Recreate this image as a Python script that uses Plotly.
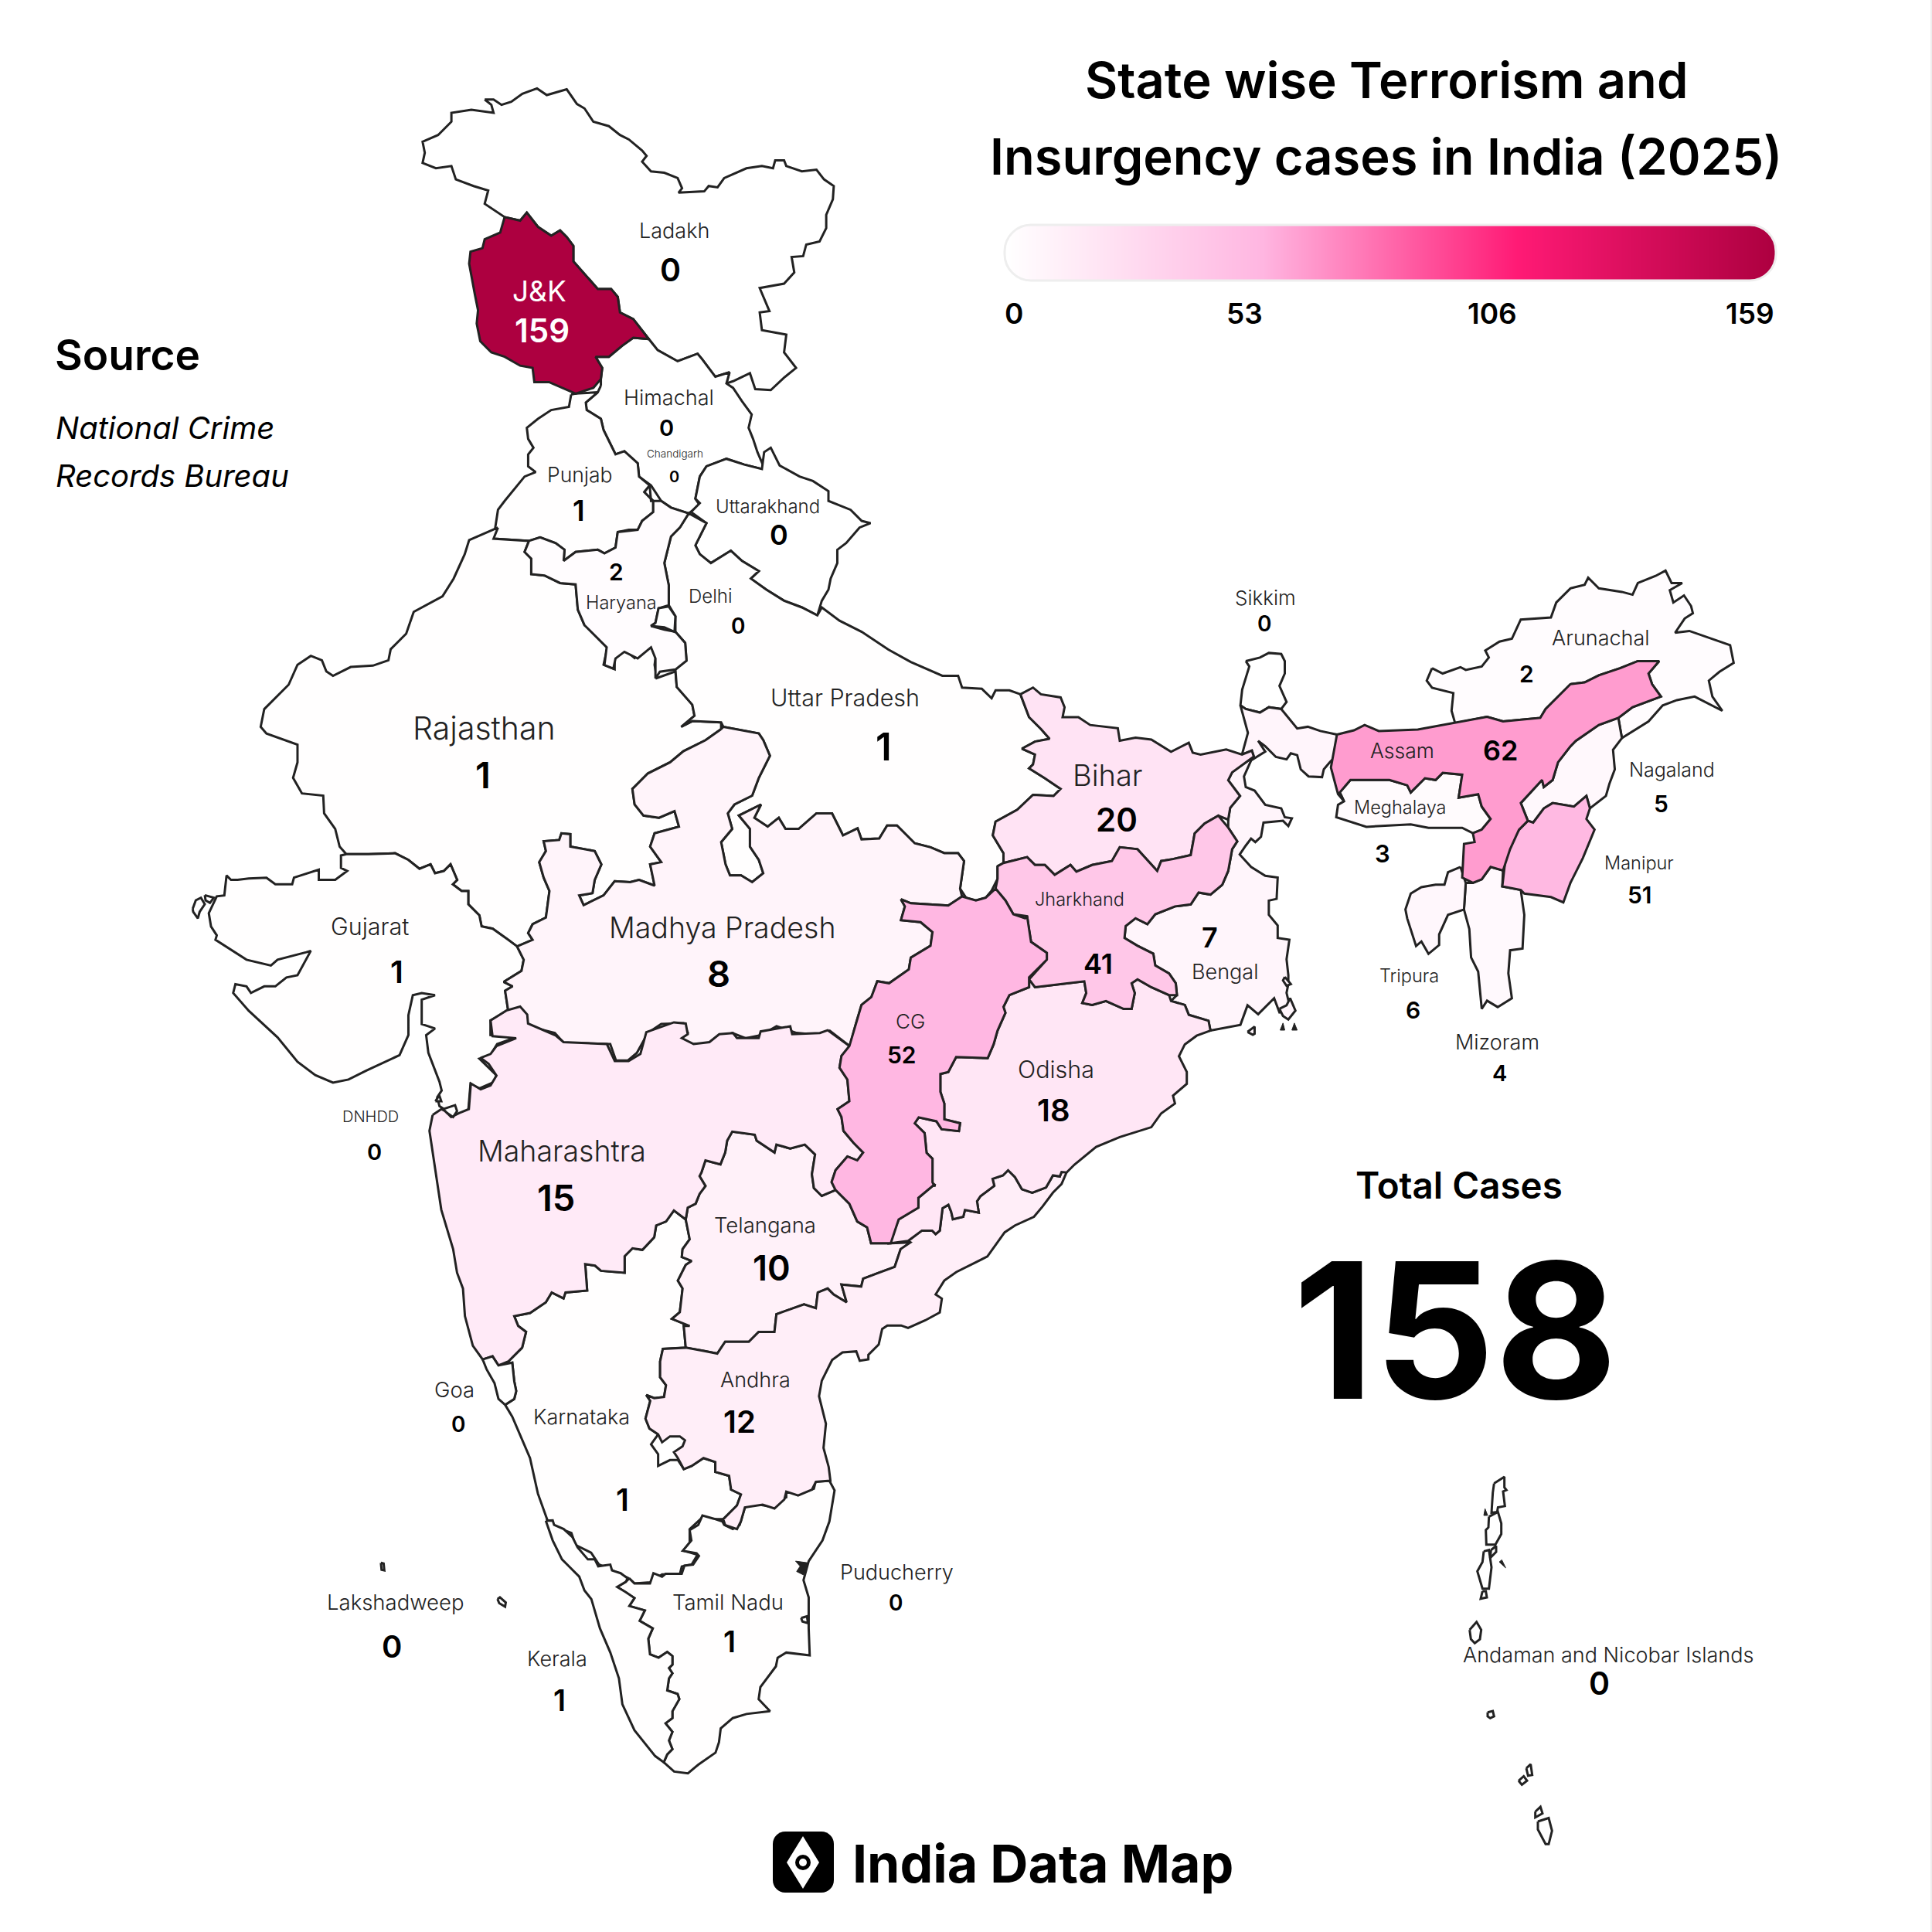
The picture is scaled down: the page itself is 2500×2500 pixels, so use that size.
import plotly.graph_objects as go
from plotly.colors import sample_colorscale

# zoom crops the outlines were read from: left, top, x scale, y scale
T_N = (300, 80, 900 / 1568, 900 / 1568)
T_W = (230, 820, 900 / 1568, 900 / 1568)
T_E = (1000, 780, 800 / 1568, 800 / 1568)
T_C = (520, 1300, 800 / 1568, 800 / 1568)
T_OD = (1050, 1300, 700 / 1568, 700 / 1568)
T_S = (600, 1750, 700 / 1568, 700 / 1568)
T_NE = (1550, 720, 720 / 1568, 720 / 1568)
T_AN = (1850, 1880, 1 / 3, 540 / 1568)
T_K = (230, 1100, 1 / 3, 1 / 3)


def px(tile, pts):
    return [(tile[0] + a * tile[2], tile[1] + b * tile[3]) for a, b in pts]


COLORSCALE = [[0, "#ffffff"], [1 / 3, "#ffb6e1"], [2 / 3, "#ff1a75"], [1, "#ad0040"]]
MAX_CASES = 159
LEGEND_TICKS = ["0", "53", "106", "159"]
TITLE_LINES = ["State wise Terrorism and", "Insurgency cases in India (2025)"]
SOURCE_LINES = ["National Crime", "Records Bureau"]
TOTAL_CASES = 158

STATES = ["Ladakh", "J&K", "Himachal", "Chandigarh", "Punjab", "Uttarakhand", "Haryana", "Delhi", "Rajasthan",
          "Uttar Pradesh", "Bihar", "Sikkim", "Arunachal", "Assam", "Nagaland", "Meghalaya", "Manipur", "Tripura",
          "Mizoram", "Jharkhand", "Bengal", "Gujarat", "Madhya Pradesh", "CG", "Odisha", "DNHDD", "Maharashtra",
          "Telangana", "Andhra", "Goa", "Karnataka", "Puducherry", "Lakshadweep", "Tamil Nadu", "Kerala",
          "Andaman and Nicobar Islands"]
CASES = [0, 159, 0, 0, 1, 0, 2, 0, 1,
         1, 20, 0, 2, 62, 5, 3, 51, 6,
         4, 41, 7, 1, 8, 52, 18, 0, 15,
         10, 12, 0, 1, 0, 0, 1, 1,
         0]
# small territories sit on top of their neighbours
ON_TOP = ["Delhi", "Goa", "DNHDD", "Puducherry", "Lakshadweep"]

# label positions, in the 1568 wide preview of the reference
NAME_X = [547, 438, 543, 548, 471, 623, 504, 577, 393,
          686, 899, 1027, 1299, 1138, 1357, 1136, 1330, 1144,
          1215, 876, 994, 300, 586, 739, 857, 301, 456,
          621, 613, 369, 472, 728, 321, 591, 452,
          1305]
NAME_Y = [187, 236, 323, 368, 385, 411, 489, 484, 591,
          566, 629, 485, 518, 609, 625, 655, 700, 792,
          846, 730, 789, 752, 753, 829, 868, 906, 934,
          994, 1120, 1128, 1150, 1276, 1300, 1300, 1346,
          1343]
NAME_SIZE = [27, 37, 27, 13.5, 26.5, 24, 23.5, 24, 41,
             30.5, 38, 26, 27, 26.5, 25, 23.5, 23.5, 23.5,
             27, 23.5, 27, 30.5, 37.5, 26, 30.5, 20, 37.5,
             27.5, 27, 27.5, 27, 27, 27.5, 27.5, 27,
             27]
VALUE_X = [544, 440, 541, 547, 470, 632, 500, 599, 392,
           717, 906, 1026, 1239, 1218, 1348, 1122, 1331, 1147,
           1217, 891, 982, 322, 583, 732, 855, 304, 451,
           626, 600, 372, 505, 727, 318, 592, 454,
           1298]
VALUE_Y = [219, 268, 347, 387, 414, 434, 464, 508, 629,
           606, 665, 506, 547, 609, 652, 693, 726, 820,
           871, 782, 761, 789, 790, 856, 901, 935, 972,
           1029, 1154, 1156, 1217, 1301, 1336, 1332, 1380,
           1366]
VALUE_SIZE = [41, 42, 29, 20, 37, 36, 30, 28, 47,
              49, 42, 28, 30, 36, 30, 31, 30, 30,
              29, 36, 36, 40, 47, 30, 40, 29, 47,
              45, 40, 28, 40, 28, 40, 38, 38,
              41]

OUTLINES = {
    "Ladakh": [px(T_N, [(570, 85), (590, 85), (608, 97), (630, 90), (655, 72), (688, 60), (710, 75), (755, 62), (778, 95), (795, 105), (815, 135), (850, 145), (875, 165), (895, 175), (925, 200), (935, 212), (925, 225), (945, 247), (975, 250), (1005, 262), (1015, 285), (1007, 295), (1065, 292), (1075, 280), (1095, 283), (1110, 262), (1160, 240), (1195, 235), (1220, 240), (1225, 222), (1245, 222), (1250, 235), (1285, 247), (1318, 243), (1335, 265), (1357, 280), (1355, 310), (1340, 345), (1340, 375), (1325, 405), (1295, 412), (1288, 438), (1262, 440), (1268, 475), (1245, 500), (1190, 510), (1212, 562), (1190, 565), (1195, 605), (1250, 615), (1245, 655), (1272, 690), (1245, 712), (1215, 740), (1180, 738), (1168, 702), (1130, 720), (1115, 725), (1122, 700), (1090, 710), (1060, 670), (1050, 658), (1005, 675), (960, 650), (940, 625), (905, 580), (875, 565), (870, 530), (855, 512), (825, 512), (770, 450), (770, 415), (755, 395), (740, 380), (720, 392), (690, 372), (665, 340), (650, 358), (615, 350), (570, 320), (578, 290), (545, 280), (505, 265), (495, 235), (460, 240), (430, 228), (435, 205), (430, 180), (465, 165), (495, 135), (495, 115), (540, 108), (590, 115), (585, 97)])],
    "J&K": [px(T_N, [(615, 350), (650, 358), (665, 340), (680, 360), (690, 372), (720, 392), (740, 380), (755, 395), (770, 415), (770, 450), (825, 512), (855, 512), (870, 530), (875, 565), (905, 580), (940, 625), (905, 622), (880, 640), (850, 665), (820, 665), (835, 690), (832, 715), (815, 735), (775, 748), (745, 735), (715, 722), (682, 722), (678, 690), (650, 685), (615, 665), (585, 655), (560, 630), (552, 590), (555, 560), (548, 525), (535, 455), (538, 428), (565, 420), (570, 400), (605, 385)])],
    "Himachal": [px(T_N, [(832, 730), (825, 745), (798, 768), (800, 785), (832, 805), (838, 830), (865, 885), (885, 878), (915, 905), (918, 935), (945, 955), (968, 990), (990, 1005), (1030, 1018), (1055, 1000), (1045, 985), (1050, 960), (1055, 935), (1070, 912), (1115, 895), (1155, 908), (1195, 918), (1200, 915), (1185, 880), (1175, 850), (1165, 825), (1172, 795), (1150, 765), (1130, 735), (1115, 725), (1122, 700), (1090, 710), (1060, 670), (1050, 658), (1005, 675), (960, 650), (940, 625), (905, 622), (880, 640), (850, 665), (820, 665), (835, 690), (832, 715)])],
    "Punjab": [px(T_N, [(765, 750), (760, 778), (720, 785), (690, 805), (665, 825), (668, 850), (680, 870), (668, 885), (668, 912), (685, 925), (660, 935), (635, 965), (615, 990), (600, 1010), (595, 1040), (590, 1075), (670, 1080), (695, 1072), (730, 1085), (750, 1100), (748, 1125), (775, 1105), (825, 1100), (840, 1108), (865, 1095), (870, 1060), (895, 1055), (915, 1055), (925, 1035), (950, 1015), (950, 990), (930, 970), (942, 955), (918, 935), (915, 905), (885, 878), (865, 885), (838, 830), (832, 805), (800, 785), (798, 768), (825, 745), (775, 748)])],
    "Haryana": [px(T_N, [(670, 1080), (695, 1072), (730, 1085), (750, 1100), (748, 1125), (775, 1105), (825, 1100), (840, 1108), (865, 1095), (870, 1060), (915, 1055), (925, 1035), (950, 1015), (950, 990), (930, 970), (942, 955), (945, 990), (968, 990), (990, 1005), (1030, 1018), (1010, 1050), (990, 1070), (975, 1130), (985, 1180), (985, 1225), (962, 1232), (955, 1265), (945, 1272), (975, 1280), (1000, 1285), (1022, 1310), (1025, 1350), (1000, 1370), (965, 1375), (955, 1390), (955, 1345), (945, 1320), (915, 1345), (885, 1330), (865, 1345), (860, 1368), (840, 1360), (845, 1320), (795, 1270), (780, 1235), (775, 1178), (740, 1175), (705, 1158), (675, 1155), (675, 1120), (660, 1105)])],
    "Delhi": [px(T_N, [(985, 1228), (962, 1232), (955, 1265), (945, 1272), (975, 1275), (998, 1285), (1000, 1250)])],
    "Uttarakhand": [px(T_N, [(1035, 1015), (1055, 995), (1045, 985), (1050, 960), (1055, 935), (1070, 912), (1115, 895), (1155, 908), (1195, 918), (1200, 880), (1215, 870), (1235, 910), (1280, 935), (1310, 945), (1345, 968), (1345, 990), (1395, 1010), (1420, 1035), (1440, 1040), (1415, 1050), (1385, 1085), (1365, 1100), (1365, 1130), (1350, 1165), (1345, 1190), (1330, 1215), (1320, 1248), (1285, 1230), (1245, 1215), (1205, 1190), (1170, 1165), (1188, 1148), (1150, 1125), (1125, 1102), (1080, 1130), (1055, 1110), (1045, 1090), (1070, 1040)])],
    "Uttar Pradesh": [px(T_N, [(1000, 1370), (1025, 1350), (1022, 1310), (1000, 1285), (1000, 1250), (985, 1225), (985, 1180), (975, 1130), (990, 1070), (1010, 1050), (1030, 1018), (1070, 1040), (1045, 1090), (1055, 1110), (1080, 1130), (1125, 1102), (1150, 1125), (1188, 1148), (1170, 1165), (1205, 1190), (1245, 1215), (1285, 1230), (1320, 1248), (1330, 1230), (1370, 1260), (1420, 1285), (1480, 1325)])
                      + px(T_E, [(350, 150), (430, 185), (470, 185), (480, 215), (530, 218), (555, 242), (565, 222), (600, 222), (628, 232), (650, 290), (680, 320), (702, 345), (665, 352), (632, 370), (665, 385), (660, 410), (650, 420), (690, 445), (730, 472), (712, 490), (660, 487), (620, 525), (565, 555), (558, 590), (585, 635), (585, 660), (570, 668), (570, 700), (555, 730), (540, 748), (515, 755), (490, 748), (475, 725), (480, 690), (485, 655), (470, 635), (435, 635), (400, 620), (360, 610), (315, 565), (290, 565), (270, 598), (225, 600), (215, 572), (178, 590)])
                      + px(T_W, [(1475, 405), (1440, 405), (1400, 440), (1370, 440), (1355, 415), (1330, 435), (1300, 415), (1315, 385), (1265, 410), (1290, 440), (1290, 480), (1310, 510), (1320, 540), (1295, 560), (1270, 545), (1245, 545), (1235, 520), (1225, 470), (1250, 440), (1240, 405), (1255, 385), (1295, 365), (1310, 325), (1335, 275), (1320, 240), (1310, 225), (1230, 210), (1225, 200), (1160, 197), (1135, 210), (1165, 185), (1160, 160), (1125, 120), (1122, 85)])],
    "Rajasthan": [px(T_N, [(600, 1050), (535, 1078), (525, 1110), (500, 1165), (475, 1205), (410, 1240)])
                  + px(T_W, [(515, 0), (480, 35), (475, 60), (440, 72), (390, 75), (350, 95), (335, 85), (325, 60), (300, 50), (270, 70), (250, 115), (195, 170), (187, 210), (200, 225), (270, 250), (270, 290), (260, 325), (280, 360), (328, 365), (330, 405), (355, 440), (365, 480), (380, 497), (430, 497), (490, 495), (520, 510), (545, 530), (570, 520), (580, 540), (600, 535), (615, 520), (630, 555), (620, 565), (640, 580), (655, 580), (655, 610), (680, 635), (685, 660), (710, 665), (745, 690), (765, 705), (800, 690), (790, 675), (800, 655), (830, 640), (838, 580), (825, 550), (815, 515), (830, 490), (825, 468), (860, 465), (865, 450), (885, 452), (885, 480), (940, 490), (955, 520), (940, 555), (935, 585), (905, 590), (915, 612), (960, 590), (985, 558), (1020, 560), (1040, 555), (1075, 568), (1065, 520), (1090, 515), (1065, 480), (1075, 450), (1130, 435), (1120, 400), (1085, 415), (1050, 410), (1030, 385), (1025, 350), (1060, 315), (1110, 290), (1140, 265), (1190, 240), (1225, 215), (1225, 200), (1160, 197), (1135, 210), (1165, 185), (1160, 160), (1125, 120), (1122, 85), (1080, 100), (1075, 70), (1080, 35), (1060, 30), (1030, 55), (1010, 38), (985, 48), (985, 80), (960, 70), (970, 25), (945, 0)])
                  + px(T_N, [(795, 1270), (780, 1235), (775, 1178), (740, 1175), (705, 1158), (675, 1155), (675, 1120), (660, 1105), (670, 1080), (590, 1075)])],
    "Madhya Pradesh": [px(T_W, [(1225, 215), (1190, 240), (1140, 265), (1110, 290), (1060, 315), (1025, 350), (1030, 385), (1050, 410), (1085, 415), (1120, 400), (1130, 435), (1075, 450), (1065, 480), (1090, 515), (1065, 520), (1075, 568), (1040, 555), (1020, 560), (985, 558), (960, 590), (915, 612), (905, 590), (935, 585), (940, 555), (955, 520), (940, 490), (885, 480), (885, 452), (865, 450), (860, 465), (825, 468), (830, 490), (815, 515), (825, 550), (838, 580), (830, 640), (800, 655), (790, 675), (800, 690), (765, 705), (780, 735), (775, 760), (735, 785), (755, 795), (738, 805), (745, 850), (770, 845), (785, 860), (790, 885), (850, 900), (870, 922), (975, 925), (988, 962), (1015, 962), (1035, 945), (1060, 900), (1090, 880), (1140, 878), (1150, 900), (1135, 910), (1150, 925), (1190, 925), (1250, 900), (1280, 912), (1315, 905), (1350, 885), (1395, 900), (1450, 905), (1470, 895), (1515, 930)])
                       + px(T_E, [(210, 1070), (225, 1020), (250, 1000), (265, 960), (295, 965), (345, 930), (350, 900), (400, 870), (405, 835), (375, 810), (325, 805), (335, 770), (325, 752), (350, 762), (445, 768), (480, 745), (475, 725), (480, 690), (485, 655), (470, 635), (435, 635), (400, 620), (360, 610), (315, 565), (290, 565), (270, 598), (225, 600), (215, 572), (178, 590)])
                       + px(T_W, [(1475, 405), (1440, 405), (1400, 440), (1370, 440), (1355, 415), (1330, 435), (1300, 415), (1315, 385), (1265, 410), (1290, 440), (1290, 480), (1310, 510), (1320, 540), (1295, 560), (1270, 545), (1245, 545), (1235, 520), (1225, 470), (1250, 440), (1240, 405), (1255, 385), (1295, 365), (1310, 325), (1335, 275), (1320, 240), (1310, 225), (1230, 210)])],
    "Gujarat": [px(T_W, [(380, 497), (368, 500), (368, 528), (382, 535), (355, 555), (318, 555), (318, 532), (262, 550), (258, 565), (220, 565), (200, 550), (160, 552), (135, 555), (120, 555), (110, 545), (105, 590), (88, 592), (70, 630), (75, 660), (88, 680), (85, 690), (155, 735), (210, 748), (225, 735), (290, 718), (300, 715), (270, 770), (245, 775), (220, 795), (195, 795), (165, 810), (155, 795), (130, 790), (125, 810), (160, 850), (225, 910), (270, 965), (310, 995), (350, 1012), (385, 1005), (425, 985), (500, 950), (520, 905), (520, 860), (530, 815), (550, 810), (580, 815), (550, 825), (550, 880), (580, 890), (560, 905), (565, 945), (590, 1010), (595, 1030), (585, 1045), (590, 1065), (605, 1075), (625, 1090), (655, 1075), (660, 1015), (680, 1025), (715, 1010), (718, 995), (680, 958), (705, 950), (720, 925), (762, 910), (705, 905), (705, 872), (745, 850), (738, 805), (755, 795), (735, 785), (775, 760), (780, 735), (765, 705), (745, 690), (710, 665), (685, 660), (680, 635), (655, 610), (655, 580), (640, 580), (620, 565), (630, 555), (615, 520), (600, 535), (580, 540), (570, 520), (545, 530), (520, 510), (490, 495), (430, 497)]),
                px(T_K, [(58, 228), (70, 195), (90, 185), (105, 210), (85, 240), (78, 265), (60, 240)]),
                px(T_K, [(105, 175), (140, 185), (125, 205), (108, 195)])],
    "Maharashtra": [px(T_C, [(78, 280), (100, 265), (110, 270), (125, 285), (145, 275), (170, 265), (175, 200), (200, 215), (225, 205), (240, 180), (220, 150), (200, 135), (225, 125), (240, 105), (290, 85), (230, 80), (225, 40), (265, 15), (300, 5), (318, 25), (320, 48), (390, 78), (410, 95), (520, 100), (540, 143), (575, 143), (605, 125), (620, 70), (690, 45), (720, 48), (725, 75), (710, 85), (740, 100), (780, 95), (805, 75), (840, 72), (850, 85), (905, 85), (910, 68), (985, 55), (990, 75), (1060, 72), (1080, 65), (1115, 90), (1135, 105), (1115, 130), (1110, 160), (1130, 190), (1135, 245), (1105, 265), (1115, 285), (1120, 320), (1145, 350), (1170, 375), (1155, 395), (1130, 385), (1100, 420), (1090, 450), (1100, 470), (1065, 485), (1045, 465), (1040, 430), (1048, 380), (1022, 355), (985, 365), (950, 355), (945, 375), (900, 345), (895, 330), (838, 322), (825, 345), (820, 375), (808, 405), (770, 395), (760, 425), (755, 435), (770, 460), (755, 480), (745, 505), (725, 515), (720, 545), (690, 522), (670, 550), (645, 560), (640, 590), (610, 622), (585, 618), (565, 638), (565, 680), (505, 675), (490, 662), (465, 658), (470, 725), (415, 730), (410, 745), (380, 730), (365, 755), (325, 782), (285, 790), (295, 815), (315, 830), (305, 870), (270, 905), (245, 915), (230, 892), (205, 900), (180, 865), (160, 790), (155, 720), (140, 680), (130, 620), (100, 520), (90, 450), (70, 320)])],
    "Goa": [px(T_C, [(205, 900), (230, 892), (245, 915), (280, 908), (285, 955), (290, 980), (285, 1000), (262, 1015), (245, 1000), (235, 960), (215, 925)])],
    "DNHDD": [px(T_C, [(105, 265), (135, 255), (140, 270), (130, 285), (115, 275)]),
              px(T_C, [(85, 245), (95, 230), (100, 245)])],
    "Telangana": [px(T_C, [(838, 322), (895, 330), (900, 345), (945, 375), (950, 355), (985, 365), (1022, 355), (1048, 380), (1040, 430), (1045, 465), (1065, 485), (1100, 470), (1135, 505), (1155, 550), (1180, 565), (1190, 605), (1240, 605), (1290, 603), (1265, 620), (1250, 665), (1210, 680), (1170, 695), (1165, 715), (1115, 710), (1128, 755), (1095, 735), (1080, 720), (1055, 730), (1050, 770), (1020, 760), (950, 785), (945, 830), (905, 830), (880, 855), (820, 855), (800, 885), (765, 878), (720, 870), (715, 815), (730, 815), (685, 797), (705, 780), (712, 720), (700, 700), (720, 660), (735, 650), (710, 640), (712, 620), (730, 595), (720, 545), (725, 515), (745, 505), (755, 480), (770, 460), (755, 435), (760, 425), (770, 395), (808, 405), (820, 375), (825, 345)])],
    "CG": [px(T_E, [(325, 752), (350, 762), (445, 768), (480, 745), (515, 755), (540, 748), (565, 725), (590, 755), (610, 790), (640, 800), (645, 795), (650, 830), (655, 860), (695, 888), (695, 905), (650, 950), (650, 975), (600, 995), (585, 1025), (590, 1040), (570, 1085), (560, 1120), (545, 1155), (465, 1152), (445, 1190), (425, 1195), (425, 1240), (435, 1270), (435, 1310), (475, 1320), (472, 1340), (428, 1335), (415, 1315), (370, 1305), (360, 1320), (385, 1345), (390, 1395), (405, 1410), (405, 1470), (410, 1480)])
           + px(T_C, [(1352, 455), (1310, 490), (1310, 515), (1260, 545), (1240, 605), (1190, 605), (1180, 565), (1155, 550), (1135, 505), (1100, 470), (1090, 450), (1100, 420), (1130, 385), (1155, 395), (1170, 375), (1145, 350), (1120, 320), (1115, 285), (1105, 265), (1135, 245), (1130, 190), (1110, 160), (1115, 130), (1135, 105)])
           + px(T_E, [(210, 1070), (225, 1020), (250, 1000), (265, 960), (295, 965), (345, 930), (350, 900), (400, 870), (405, 835), (375, 810), (325, 805), (335, 770)])],
    "Odisha": [px(T_E, [(650, 955), (665, 975), (750, 965), (790, 960), (795, 990), (785, 1015), (810, 1020), (845, 1010), (890, 1030), (910, 1030), (918, 990), (910, 965), (925, 955), (960, 975), (1005, 995), (1010, 1010), (1045, 1020), (1055, 1045), (1105, 1060), (1110, 1085), (1075, 1098), (1045, 1120), (1030, 1150), (1050, 1190), (1050, 1220), (1015, 1250), (1020, 1270), (985, 1295), (960, 1330), (880, 1355), (820, 1380), (765, 1425), (745, 1445)])
               + px(T_OD, [(725, 485), (720, 498), (700, 495), (680, 530), (640, 545), (610, 535), (590, 500), (570, 480), (555, 495), (525, 505), (530, 525), (490, 555), (480, 570), (485, 603), (445, 595), (440, 615), (410, 622), (405, 600), (397, 580), (380, 590), (372, 655), (360, 665), (350, 655), (320, 655), (280, 685), (225, 692)])
               + px(T_C, [(1260, 545), (1310, 515), (1310, 490), (1352, 455)])
               + px(T_E, [(410, 1480), (405, 1470), (405, 1410), (390, 1395), (385, 1345), (360, 1320), (370, 1305), (415, 1315), (428, 1335), (472, 1340), (475, 1320), (435, 1310), (435, 1270), (425, 1240), (425, 1195), (445, 1190), (465, 1152), (545, 1155), (560, 1120), (570, 1085), (590, 1040), (585, 1025), (600, 995), (650, 975)])],
    "Andhra": [px(T_OD, [(740, 485), (725, 520), (700, 545), (670, 585), (645, 615), (590, 640), (560, 660), (510, 730), (480, 745), (420, 775), (385, 800), (360, 840), (378, 852), (372, 892), (330, 915), (280, 937), (260, 930), (220, 930), (205, 940), (195, 985), (165, 1015), (165, 1028), (140, 1032), (130, 1005), (90, 1008), (60, 1030), (30, 1090), (22, 1135), (42, 1215), (35, 1285), (50, 1340), (55, 1380)])
               + px(T_C, [(1050, 1210), (1040, 1230), (1005, 1245), (975, 1235), (970, 1255), (945, 1278), (915, 1268), (870, 1275), (860, 1310), (850, 1330), (820, 1320), (815, 1305), (850, 1270), (860, 1242), (835, 1230), (830, 1195), (795, 1185), (795, 1160), (765, 1150), (735, 1170), (715, 1178), (700, 1150), (690, 1135), (712, 1120), (718, 1105), (705, 1095), (680, 1095), (660, 1110), (650, 1090), (628, 1075), (618, 1050), (630, 1005), (620, 990), (640, 998), (665, 995), (670, 965), (655, 945), (655, 905), (662, 873), (720, 870), (765, 878), (800, 885), (820, 855), (880, 855), (905, 830), (945, 830), (950, 785), (1020, 760), (1050, 770), (1055, 730), (1080, 720), (1095, 735), (1128, 755), (1115, 710), (1165, 715), (1170, 695), (1210, 680), (1250, 665), (1265, 620), (1290, 603)])
               + px(T_OD, [(280, 685), (320, 655), (350, 655), (360, 665), (372, 655), (380, 590), (397, 580), (405, 600), (410, 622), (440, 615), (445, 595), (485, 603), (480, 570), (490, 555), (530, 525), (525, 505), (555, 495), (570, 480), (590, 500), (610, 535), (640, 545), (680, 530), (700, 495), (720, 498), (725, 485)])],
    "Karnataka": [px(T_C, [(262, 1015), (285, 1000), (290, 980), (285, 955), (280, 908), (245, 915), (270, 905), (305, 870), (315, 830), (295, 815), (285, 790), (325, 782), (365, 755), (380, 730), (410, 745), (415, 730), (470, 725), (465, 658), (490, 662), (505, 675), (565, 680), (565, 638), (585, 618), (610, 622), (640, 590), (645, 560), (670, 550), (690, 522), (720, 545), (730, 595), (712, 620), (710, 640), (735, 650), (720, 660), (700, 700), (712, 720), (705, 780), (685, 797), (730, 815), (715, 815), (720, 870), (662, 873), (655, 905), (655, 945), (670, 965), (665, 995), (640, 998), (620, 990), (630, 1005), (618, 1050), (628, 1075), (650, 1090), (632, 1115), (650, 1140), (650, 1170), (680, 1155), (700, 1155), (715, 1178), (735, 1170), (765, 1150), (795, 1160), (795, 1185), (830, 1195), (835, 1230), (860, 1242), (850, 1270), (815, 1305), (790, 1305), (765, 1298), (730, 1330), (730, 1365), (715, 1385), (750, 1395), (735, 1420), (710, 1425), (705, 1445), (660, 1445), (630, 1465), (590, 1468), (575, 1455), (545, 1440), (500, 1420), (480, 1390), (440, 1370), (430, 1340), (390, 1325), (370, 1310), (345, 1240), (325, 1150), (280, 1045)])],
    "Kerala": [px(T_S, [(238, 488), (258, 487), (262, 500), (290, 512), (315, 535), (330, 565), (360, 600), (380, 600), (390, 620), (425, 615), (430, 632), (455, 640), (475, 655), (470, 665), (445, 680), (470, 695), (495, 712), (480, 735), (525, 748), (510, 778), (548, 800), (535, 830), (540, 875), (565, 885), (590, 868), (605, 880), (605, 905), (595, 915), (605, 930), (595, 945), (590, 980), (620, 990), (625, 1005), (605, 1040), (605, 1060), (585, 1075), (605, 1100), (595, 1125), (605, 1150), (590, 1165), (580, 1188), (555, 1170), (495, 1095), (460, 1020), (450, 945), (425, 870), (395, 800), (370, 715), (350, 690), (335, 650), (300, 615), (285, 600), (258, 545)])],
    "Tamil Nadu": [px(T_S, [(480, 655), (495, 670), (540, 670), (550, 640), (575, 650), (585, 642), (632, 642), (640, 618), (665, 615), (682, 590), (675, 582), (635, 575), (660, 545), (655, 515), (680, 500), (692, 473), (725, 482), (750, 490), (755, 500), (780, 512), (800, 500), (815, 450), (840, 438), (895, 448), (905, 432), (935, 420), (935, 400), (950, 400), (975, 410), (1015, 395), (1020, 375), (1060, 372), (1075, 400), (1060, 490), (1040, 545), (1000, 605), (985, 660), (1000, 710), (1000, 800), (1003, 878), (935, 870), (910, 885), (905, 910), (860, 970), (855, 1005), (888, 1040), (820, 1048), (780, 1060), (745, 1090), (740, 1130), (730, 1160), (680, 1195), (650, 1220), (610, 1215), (580, 1188), (590, 1165), (605, 1150), (595, 1125), (605, 1100), (585, 1075), (605, 1060), (605, 1040), (625, 1005), (620, 990), (590, 980), (595, 945), (605, 930), (595, 915), (605, 905), (605, 880), (590, 868), (565, 885), (540, 875), (535, 830), (548, 800), (510, 778), (525, 748), (480, 735), (495, 712), (470, 695), (445, 680), (470, 665)])],
    "Puducherry": [px(T_S, [(978, 770), (995, 765), (998, 785), (982, 780)])],
    "Lakshadweep": [px(T_S, [(98, 715), (105, 710), (122, 725), (120, 737), (103, 727)]),
                    px(T_S, [(-240, 610), (-232, 612), (-230, 632), (-238, 630)])],
    "Sikkim": [px(T_NE, [(135, 295), (175, 285), (200, 272), (235, 275), (245, 295), (245, 330), (230, 365), (250, 410), (235, 430), (200, 425), (175, 440), (135, 430), (120, 420), (125, 375), (145, 310)])],
    "Bengal": [px(T_NE, [(120, 420), (135, 430), (175, 440), (200, 425), (235, 430), (280, 485), (310, 480), (345, 492), (392, 502), (392, 560), (372, 580), (355, 600), (350, 622), (312, 620), (290, 600), (280, 560), (262, 555), (250, 572), (220, 565), (190, 535), (170, 520), (190, 550), (150, 575), (130, 620), (135, 650), (160, 660), (190, 700), (235, 710), (245, 735), (265, 738), (255, 760), (240, 745), (185, 750), (178, 790), (162, 805), (150, 795), (135, 815), (118, 840), (150, 875), (190, 900), (225, 905), (222, 965), (200, 970), (200, 1010), (225, 1040), (225, 1075), (258, 1080), (250, 1135), (255, 1180), (255, 1205), (250, 1230), (262, 1280), (230, 1285), (215, 1245), (170, 1290), (140, 1265), (120, 1320), (40, 1335)])
               + px(T_E, [(1110, 1085), (1105, 1060), (1055, 1045), (1045, 1020), (1010, 1010), (1025, 995), (1022, 965), (1005, 940), (970, 920), (965, 890), (925, 870), (892, 850), (895, 820), (920, 800), (950, 815), (970, 790), (1020, 770), (1060, 765), (1080, 735), (1110, 740), (1140, 715), (1155, 680), (1165, 625), (1178, 605), (1155, 570), (1155, 550), (1160, 520), (1185, 490), (1155, 450), (1165, 430), (1220, 390), (1215, 375), (1190, 385), (1205, 330)]),
               px(T_NE, [(245, 1185), (262, 1205), (250, 1210), (240, 1195)]),
               px(T_NE, [(230, 1275), (250, 1265), (260, 1245), (275, 1280), (255, 1305), (240, 1295)]),
               px(T_NE, [(140, 1340), (160, 1325), (160, 1345), (155, 1348)])],
    "Bihar": [px(T_E, [(628, 232), (660, 215), (680, 232), (730, 240), (740, 265), (735, 290), (775, 290), (805, 310), (875, 318), (880, 350), (920, 342), (960, 347), (1010, 378), (1055, 355), (1065, 380), (1085, 385), (1150, 372), (1190, 385), (1215, 375), (1220, 390), (1165, 430), (1155, 450), (1185, 490), (1160, 520), (1155, 550), (1130, 540), (1095, 560), (1070, 585), (1060, 640), (1015, 650), (985, 655), (975, 680), (925, 625), (880, 620), (860, 655), (810, 665), (770, 682), (755, 665), (715, 690), (690, 665), (665, 665), (645, 645), (585, 660), (585, 635), (558, 590), (565, 555), (620, 525), (660, 487), (712, 490), (730, 472), (690, 445), (650, 420), (660, 410), (665, 385), (632, 370), (665, 352), (702, 345), (680, 320), (650, 290)])],
    "Jharkhand": [px(T_E, [(570, 668), (585, 660), (645, 645), (665, 665), (690, 665), (715, 690), (755, 665), (770, 682), (810, 665), (860, 655), (880, 620), (925, 625), (975, 680), (985, 655), (1015, 650), (1060, 640), (1070, 585), (1095, 560), (1130, 540), (1155, 570), (1178, 605), (1165, 625), (1155, 680), (1140, 715), (1110, 740), (1080, 735), (1060, 765), (1020, 770), (970, 790), (950, 815), (920, 800), (895, 820), (892, 850), (925, 870), (965, 890), (970, 920), (1005, 940), (1022, 965), (1025, 995), (1005, 995), (960, 975), (925, 955), (910, 965), (918, 990), (910, 1030), (890, 1030), (845, 1010), (810, 1020), (785, 1015), (795, 990), (790, 960), (750, 965), (665, 975), (650, 955), (695, 905), (695, 888), (655, 860), (650, 830), (645, 795), (610, 790), (590, 755), (565, 725), (570, 700)])],
    "Arunachal": [px(T_NE, [(660, 315), (690, 330), (740, 312), (755, 320), (800, 310), (820, 285), (810, 265), (850, 240), (885, 232), (910, 178), (995, 172), (1010, 130), (1050, 90), (1090, 80), (1100, 60), (1130, 90), (1195, 100), (1225, 108), (1240, 75), (1290, 55), (1318, 40), (1335, 75), (1365, 75), (1330, 95), (1340, 130), (1370, 110), (1390, 140), (1395, 160), (1372, 175), (1345, 215), (1385, 210), (1430, 225), (1500, 250), (1510, 300), (1470, 325), (1440, 350), (1450, 395), (1478, 435), (1430, 410), (1400, 395), (1350, 405), (1310, 420), (1270, 465), (1230, 490), (1195, 512), (1185, 455), (1225, 425), (1305, 395), (1280, 360), (1270, 330), (1300, 295), (1240, 295), (1190, 315), (1130, 335), (1090, 355), (1050, 360), (980, 430), (965, 455), (860, 465), (815, 452), (725, 470), (715, 435), (720, 385), (660, 370), (645, 350)])],
    "Assam": [px(T_NE, [(392, 502), (440, 490), (470, 475), (510, 492), (620, 488), (690, 475), (725, 470), (815, 452), (860, 465), (965, 455), (980, 430), (1050, 360), (1090, 355), (1130, 335), (1190, 315), (1240, 295), (1300, 295), (1270, 330), (1280, 360), (1305, 395), (1225, 425), (1185, 455), (1130, 475), (1065, 520), (1050, 535), (1015, 580), (1000, 630), (975, 650), (970, 630), (910, 695), (930, 745), (905, 770), (880, 825), (860, 885), (825, 875), (800, 910), (775, 920), (745, 905), (750, 810), (780, 805), (775, 780), (800, 770), (825, 740), (800, 705), (790, 670), (735, 680), (745, 615), (690, 610), (670, 630), (640, 625), (600, 665), (590, 645), (540, 630), (460, 630), (430, 630), (400, 665), (412, 690), (395, 670), (375, 595)])],
    "Meghalaya": [px(T_NE, [(400, 665), (430, 630), (460, 630), (540, 630), (590, 645), (600, 665), (640, 625), (670, 630), (690, 610), (745, 615), (735, 680), (790, 670), (800, 705), (825, 740), (800, 770), (775, 780), (745, 765), (650, 765), (600, 755), (475, 762), (390, 735), (395, 700), (412, 690)])],
    "Nagaland": [px(T_NE, [(1185, 455), (1195, 512), (1170, 545), (1175, 600), (1160, 640), (1150, 675), (1105, 710), (1095, 675), (1060, 705), (1000, 695), (975, 710), (945, 750), (930, 745), (910, 695), (970, 630), (975, 650), (1000, 630), (1015, 580), (1050, 535), (1065, 520), (1130, 475)])],
    "Manipur": [px(T_NE, [(1000, 695), (1060, 705), (1095, 675), (1105, 710), (1095, 740), (1118, 770), (1085, 850), (1050, 920), (1030, 975), (995, 960), (920, 950), (910, 940), (858, 930), (870, 825), (905, 770), (930, 745), (945, 750), (975, 710)])],
    "Mizoram": [px(T_NE, [(860, 885), (858, 930), (910, 940), (920, 1010), (915, 1105), (880, 1110), (875, 1175), (885, 1245), (845, 1270), (815, 1252), (800, 1275), (790, 1170), (770, 1130), (765, 1050), (750, 995), (755, 920), (775, 920), (800, 910), (825, 875)])],
    "Tripura": [px(T_NE, [(740, 875), (755, 920), (750, 995), (705, 1010), (680, 1065), (680, 1095), (650, 1120), (630, 1085), (615, 1098), (590, 1020), (585, 995), (600, 950), (630, 932), (670, 925), (695, 925), (705, 890)])],
    "Andaman and Nicobar Islands": [
        px(T_AN, [(250, 115), (290, 90), (290, 130), (298, 140), (285, 145), (292, 200), (265, 205), (262, 222), (240, 225), (245, 150)]),
        px(T_AN, [(230, 240), (265, 222), (278, 265), (278, 305), (255, 345), (220, 345), (218, 290), (228, 280)]),
        px(T_AN, [(210, 370), (230, 365), (240, 430), (230, 510), (205, 510), (185, 445), (205, 410)]),
        px(T_AN, [(238, 365), (258, 350), (258, 372), (235, 395)]),
        px(T_AN, [(205, 520), (218, 520), (222, 543), (198, 548)]),
        px(T_AN, [(155, 665), (182, 635), (200, 665), (195, 700), (175, 715), (160, 700)]),
        px(T_AN, [(225, 975), (245, 970), (250, 990), (235, 997), (225, 990)]),
        px(T_AN, [(345, 1232), (365, 1215), (378, 1232), (358, 1247)]),
        px(T_AN, [(375, 1185), (392, 1170), (398, 1210), (382, 1213)]),
        px(T_AN, [(410, 1348), (430, 1330), (438, 1355), (410, 1370)]),
        px(T_AN, [(420, 1385), (462, 1372), (475, 1420), (462, 1470), (450, 1470), (420, 1415)]),
    ],
}

# specks so small the border closes them up
SPECKS = [px(T_S, [(962, 605), (998, 610), (985, 645), (965, 635), (975, 620)]),
          px(T_NE, [(232, 1335), (240, 1315), (245, 1335)]),
          px(T_NE, [(265, 1335), (272, 1315), (280, 1335)]),
          px(T_AN, [(215, 210), (225, 235), (210, 235)]),
          px(T_AN, [(270, 410), (280, 402), (295, 432)])]

K = 2500 / 1568
FONT = "Inter"
INK = "#000000"
BORDER = "#222222"

fig = go.Figure()

# paler states first so the dark borders end up on top
order = sorted(range(len(STATES)), key=lambda i: (CASES[i] == MAX_CASES, STATES[i] in ON_TOP, CASES[i]))
for i in order:
    name = STATES[i]
    color = sample_colorscale(COLORSCALE, CASES[i] / MAX_CASES)[0]
    for part in OUTLINES.get(name, []):
        xs = [p[0] for p in part] + [part[0][0]]
        ys = [p[1] for p in part] + [part[0][1]]
        fig.add_trace(go.Scatter(x=xs, y=ys, mode="lines", fill="toself", fillcolor=color,
                                 line=dict(color=BORDER, width=3), name=name,
                                 text=f"{name}: {CASES[i]}", hoverinfo="text", showlegend=False))

for part in SPECKS:
    fig.add_trace(go.Scatter(x=[p[0] for p in part] + [part[0][0]], y=[p[1] for p in part] + [part[0][1]],
                             mode="lines", fill="toself", fillcolor=BORDER, line=dict(color=BORDER, width=1),
                             hoverinfo="skip", showlegend=False))

# colour legend
fig.add_trace(go.Heatmap(z=[list(range(MAX_CASES + 1))], x0=1303, dx=992 / MAX_CASES, y0=327, dy=70,
                         colorscale=COLORSCALE, zmin=0, zmax=MAX_CASES, zsmooth="best",
                         showscale=False, hoverinfo="skip"))


def rounded(x0, y0, x1, y1, r):
    return (f"M{x0+r},{y0} L{x1-r},{y0} C{x1-r*0.45},{y0} {x1},{y0+r*0.45} {x1},{y0+r} L{x1},{y1-r} "
            f"C{x1},{y1-r*0.45} {x1-r*0.45},{y1} {x1-r},{y1} L{x0+r},{y1} C{x0+r*0.45},{y1} {x0},{y1-r*0.45} {x0},{y1-r} "
            f"L{x0},{y0+r} C{x0},{y0+r*0.45} {x0+r*0.45},{y0} {x0+r},{y0} Z")


bar = rounded(1300, 291, 2298, 363, 34)
fig.add_shape(type="path", path=f"M1285,280 L2312,280 L2312,375 L1285,375 Z {bar}", fillcolor="#ffffff",
              fillrule="evenodd", line_width=0, layer="above")
fig.add_shape(type="path", path=bar, line=dict(color="#eeeeee", width=3), layer="above")

# thin grey strip down the right edge of the page
fig.add_shape(type="rect", x0=2498, x1=2500, y0=0, y1=2500, fillcolor="#eeeeee", line_width=0)

# logo
fig.add_shape(type="path", path=rounded(1000, 2370, 1079, 2449, 16), fillcolor="#000000", line_width=0)
fig.add_shape(type="path", path="M1039,2376 L1060,2410 L1039,2444 L1018,2410 Z", fillcolor="#ffffff", line_width=0)
fig.add_shape(type="circle", x0=1029, x1=1049, y0=2400, y1=2420, fillcolor="#000000", line_width=0)
fig.add_shape(type="circle", x0=1034, x1=1044, y0=2405, y1=2415, fillcolor="#ffffff", line_width=0)


def label(text, x, y, size, weight=400, color=INK, anchor="center", style="normal"):
    fig.add_annotation(x=x, y=y, text=text, showarrow=False, xanchor=anchor, yanchor="middle",
                       font=dict(family=FONT, size=size, color=color, weight=weight, style=style))


for i, name in enumerate(STATES):
    color = "#ffffff" if CASES[i] == MAX_CASES else "#222222"
    label(name, NAME_X[i] * K, NAME_Y[i] * K, NAME_SIZE[i], weight=300 if CASES[i] != MAX_CASES else 400, color=color)
    label(str(CASES[i]), VALUE_X[i] * K, VALUE_Y[i] * K, VALUE_SIZE[i], weight=600,
          color="#ffffff" if CASES[i] == MAX_CASES else INK)

label(TITLE_LINES[0], 1125 * K, 65 * K, 65, weight=600)
label(TITLE_LINES[1], 1125 * K, 127 * K, 65, weight=600)

label(LEGEND_TICKS[0], 1298, 405, 37, weight=600, anchor="left")
label(LEGEND_TICKS[1], 1610, 405, 37, weight=600)
label(LEGEND_TICKS[2], 1931, 405, 37, weight=600)
label(LEGEND_TICKS[3], 2298, 405, 37, weight=600, anchor="right")

label("Source", 43 * K, 288 * K, 55, weight=600, anchor="left")
label(SOURCE_LINES[0], 44 * K, 347 * K, 40, anchor="left", style="italic")
label(SOURCE_LINES[1], 44 * K, 386 * K, 40, anchor="left", style="italic")

label("Total Cases", 1184 * K, 962 * K, 47.5, weight=600)
label(str(TOTAL_CASES), 1181 * K, 1080 * K, 244, weight=700)
label("India Data Map", 1101, 2411, 68, weight=700, anchor="left")

fig.update_layout(width=2500, height=2500, margin=dict(l=0, r=0, t=0, b=0),
                  paper_bgcolor="#ffffff", plot_bgcolor="#ffffff", showlegend=False,
                  xaxis=dict(range=[0, 2500], visible=False, fixedrange=True),
                  yaxis=dict(range=[2500, 0], visible=False, fixedrange=True))
fig.write_html("out.html", config=dict(displayModeBar=False), post_script="document.body.style.margin='0';")
